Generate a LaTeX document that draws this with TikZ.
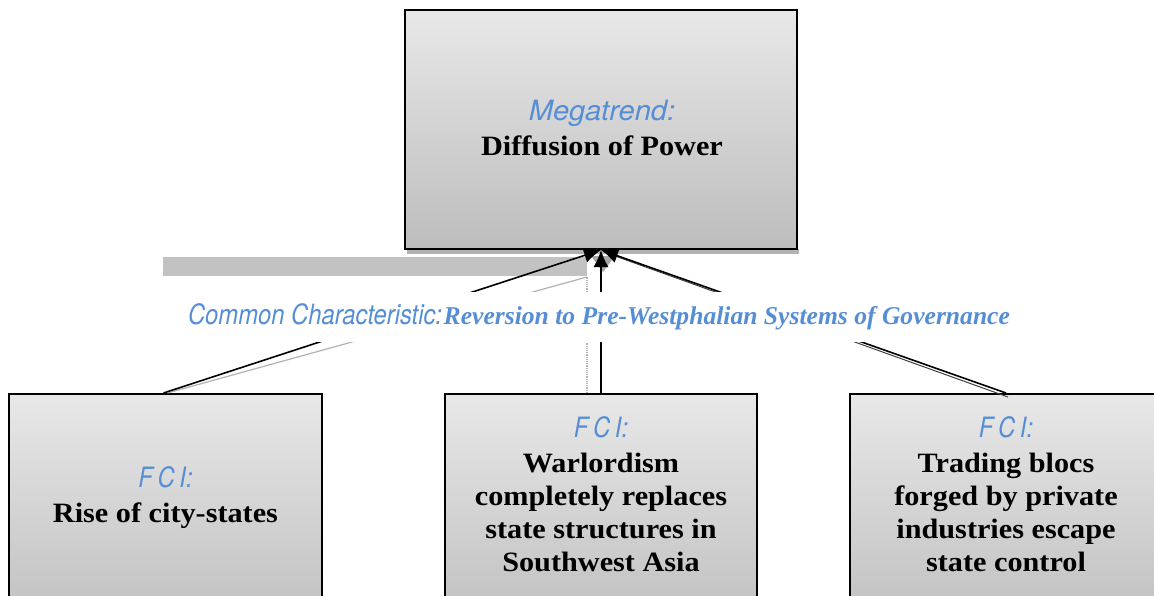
\documentclass[tikz,border=0pt]{standalone}
\usepackage{fontspec}
\setmainfont{Liberation Serif}
\newfontfamily\tagface[FakeStretch=0.85]{TeX Gyre Heros}
\newfontfamily\wideface[FakeStretch=1.04]{TeX Gyre Heros}
\newfontfamily\bodyface[FakeStretch=1.08]{Liberation Serif}
\usetikzlibrary{arrows.meta}
\definecolor{capblue}{RGB}{85,142,213}

\newcommand{\tagtext}[1]{{\tagface\mdseries\itshape\fontsize{28}{33}\selectfont\color{capblue}#1}}
\newcommand{\widetag}[1]{{\wideface\mdseries\itshape\fontsize{28}{33}\selectfont\color{capblue}#1}}

\tikzset{
  box/.style={draw=black, line width=2pt, top color=black!9, bottom color=black!26,
    inner sep=0pt, minimum width=#1, rectangle},
  boxtext/.style={align=center, inner sep=0pt, anchor=north,
    font=\bodyface\bfseries\fontsize{28}{33.2}\selectfont},
  link/.style={draw=black, line width=1.6pt, -{Latex[length=17pt,width=15pt]}},
  shade/.style={draw=black!30, line width=1.2pt},
  note/.style={fill=white, inner xsep=4pt, inner ysep=0pt, minimum height=50pt}
}

\begin{document}
\begin{tikzpicture}[x=1pt,y=-1pt]
  \useasboundingbox (0,0) rectangle (1154,595);
  \clip (0,0) rectangle (1154,595);

  % shadow strips and stray shading
  \fill[black!30] (407,249) rectangle (799,253.5);
  \fill[black!24] (163,257) rectangle (587,276);

  % boxes
  \node[box=392pt, minimum height=239pt] (trend) at (601,129.5) {};
  \node[box=313pt, minimum height=246pt] (fciA) at (165.5,517) {};
  \node[box=312pt, minimum height=246pt] (fciB) at (601,517) {};
  \node[box=312pt, minimum height=246pt] (fciC) at (1006,517) {};

  % box texts
  \node[boxtext] (trendtxt) at (602,100) {\widetag{Megatrend:}\\[1.5pt]Diffusion of Power};
  \node[boxtext] (fciAtxt) at (165.5,466.5) {\tagtext{F\,C\,I:}\\[1.5pt]Rise of city-states};
  \node[boxtext] (fciBtxt) at (601,416.5) {\tagtext{F\,C\,I:}\\[1.5pt]Warlordism\\completely replaces\\state structures in\\Southwest Asia};
  \node[boxtext] (fciCtxt) at (1006,416.5) {\tagtext{F\,C\,I:}\\[1.5pt]Trading blocs\\forged by private\\industries escape\\state control};

  % shadow traces of the connectors
  \coordinate (shtip) at (587,277);
  \draw[shade] ([xshift=2pt]fciA.north) -- (shtip);
  \draw[shade, densely dotted] ([xshift=-14pt]fciB.north) -- (shtip);
  \draw[draw=black!75, line width=1pt] ([xshift=2pt,yshift=-4pt]fciC.north) -- ([xshift=14pt,yshift=-6pt]trend.south);
  \fill[black!35] ([xshift=-10pt,yshift=-6pt]trend.south) -- ([xshift=14pt,yshift=-6pt]trend.south) -- ([xshift=2pt,yshift=-22pt]trend.south) -- cycle;

  % connectors
  \draw[link] ([xshift=-2pt]fciA.north) -- (trend.south);
  \draw[link] (fciB.north) -- (trend.south);
  \draw[link] (fciC.north) -- (trend.south);

  % common characteristic label
  \node[note] (common) at (599,317) {\tagtext{Common Characteristic:}\,{\color{capblue}\bfseries\itshape\fontsize{25.6}{30}\selectfont Reversion to Pre-Westphalian Systems of Governance}};
\end{tikzpicture}
\end{document}
